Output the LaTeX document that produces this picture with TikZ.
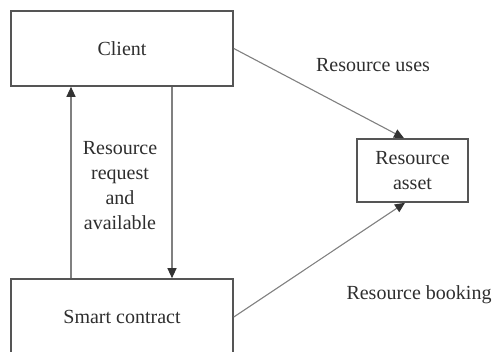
\documentclass[tikz,border=0pt]{standalone}
\usepackage{fontspec}
\setmainfont{Liberation Serif}
\usetikzlibrary{arrows.meta}
\definecolor{txt}{HTML}{2E2E2E}
\definecolor{boxc}{HTML}{555555}
\definecolor{linec}{HTML}{808080}
\definecolor{tipc}{HTML}{333333}
\tikzset{
  boxnode/.style={draw=boxc, line width=1.6pt, rectangle, inner sep=0pt, text=txt, font=\fontsize{20}{25}\selectfont, align=center},
  lbl/.style={text=txt, font=\fontsize{20}{25}\selectfont, align=center, inner sep=0pt},
  arr/.style={draw=linec, line width=1.1pt, -{Triangle[width=9pt,length=10pt,color=tipc]}}
}
\begin{document}
\begin{tikzpicture}[x=1pt,y=1pt]
\useasboundingbox (0,0) rectangle (497,352);
\clip (0,0) rectangle (497,352);
\node[boxnode, minimum width=222pt, minimum height=75pt] (client) at (122,303.5) {Client};
\node[boxnode, minimum width=222pt, minimum height=76pt] (smart) at (122,35) {Smart contract};
\node[boxnode, minimum width=111pt, minimum height=63pt] (asset) at (412.5,181.5) {Resource\\asset};
\coordinate (up) at (71,0);
\coordinate (down) at (172,0);
\draw[arr] (smart.north -| up) -- (client.south -| up);
\draw[arr] (client.south -| down) -- (smart.north -| down);
\draw[arr] (client.east) -- ([xshift=-8.5pt]asset.north);
\draw[arr] (smart.east) -- ([xshift=-7.5pt]asset.south);
\node[lbl] (mid) at (120,166.5) {Resource\\request\\and\\available};
\node[lbl] (uses) at (373,287) {Resource uses};
\node[lbl] (booking) at (419,57) {Resource booking};
\end{tikzpicture}
\end{document}
